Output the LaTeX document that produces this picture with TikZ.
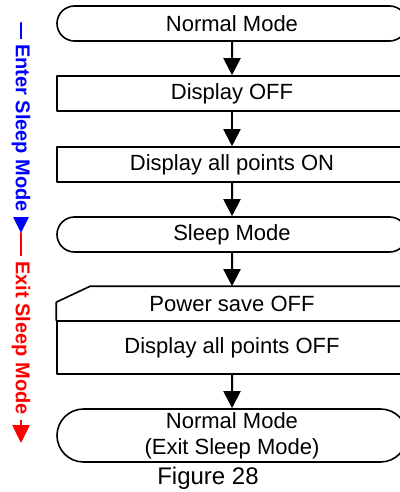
\documentclass[tikz,border=0pt]{standalone}
\usepackage{fontspec}
\setmainfont{Liberation Sans}
\usetikzlibrary{arrows.meta,shapes.misc}
\begin{document}
\begin{tikzpicture}[x=0.5pt, y=-0.5pt, font=\fontsize{11}{13}\selectfont, line join=round, line cap=round, >={Triangle[width=8.5pt,length=8.5pt]},
	box/.style={draw, line width=0.8pt, minimum width=175pt, minimum height=17.5pt, inner sep=0pt},
	term/.style={box, rounded rectangle},
	flow/.style={->, line width=1pt},
	side/.style={->, line width=1.3pt, >={Triangle[width=8.5pt,length=9pt]}},
	sidetext/.style={rotate=-90, fill=white, inner sep=2.5pt, font=\fontsize{10}{12}\selectfont\bfseries}]
	\def\xc{232} % box centre
	\useasboundingbox (0,0) rectangle (400,492);
	\clip (0,0) rectangle (400,492);
	\node[term] (normal) at (\xc,23.5) {Normal Mode};
	\node[box] (dispOff) at (\xc,93.5) {Display OFF};
	\node[box] (allOn) at (\xc,164.5) {Display all points ON};
	\node[term] (sleep) at (\xc,234.5) {Sleep Mode};
	\node[box, draw=none, minimum height=17pt] (pwrSave) at (\xc,304) {Power save OFF};
	\node[box, minimum height=26.5pt] (allOff) at (\xc,347.5) {Display all points OFF};
	\node[term, minimum height=26.5pt, align=center] (exit) at (\xc,435.5) {Normal Mode\\(Exit Sleep Mode)};
	\node[font=\fontsize{12}{14}\selectfont] (fig) at (208,478) {Figure 28};
	\draw[line width=0.8pt] (allOff.north west) -- ++(0,-18) -- ++(34,-16) -| (allOff.north east);
	\draw[flow] (normal) -- (dispOff);
	\draw[flow] (dispOff) -- (allOn);
	\draw[flow] (allOn) -- (sleep);
	\draw[flow] (sleep) -- (pwrSave);
	\draw[flow] (allOff) -- (exit);
	\coordinate (enterTop) at (21,23);
	\coordinate (modeSwitch) at (21,233);
	\coordinate (exitEnd) at (21,443);
	\draw[side, blue] (enterTop) -- (modeSwitch) node[midway, sidetext] {Enter Sleep Mode};
	\draw[side, red] (modeSwitch) -- (exitEnd) node[midway, sidetext] {Exit Sleep Mode};
\end{tikzpicture}
\end{document}
